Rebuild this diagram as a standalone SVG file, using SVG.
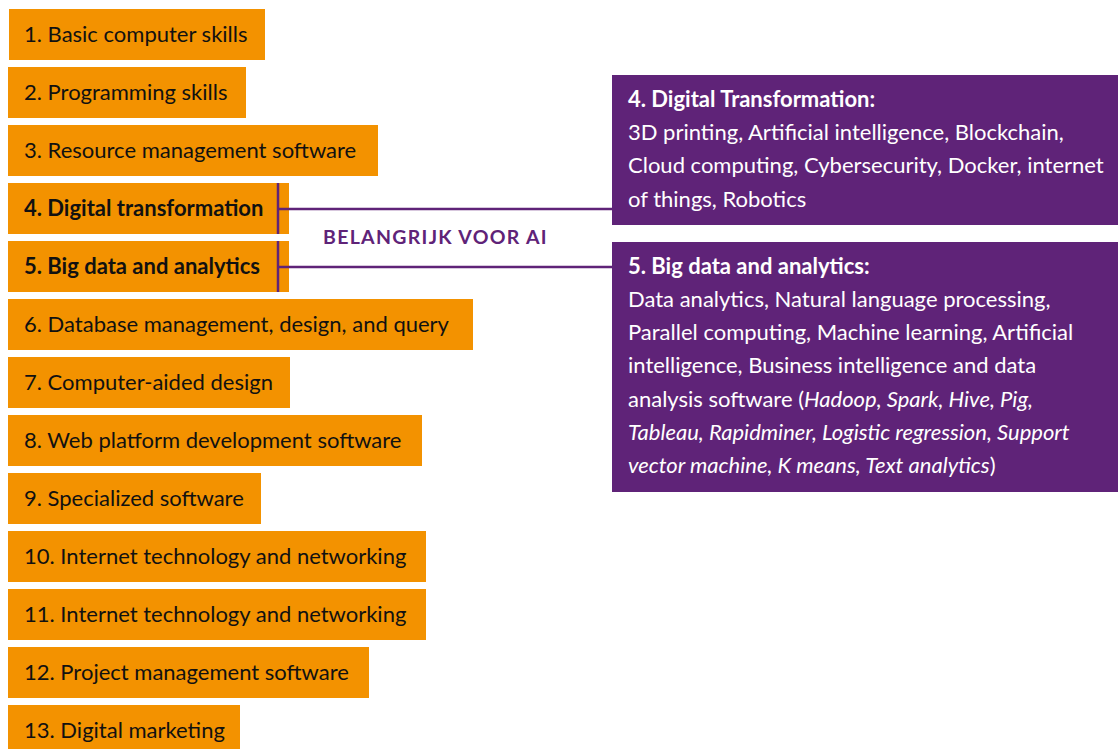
<svg xmlns="http://www.w3.org/2000/svg" width="1118" height="749" viewBox="0 0 1118 749">
<style>
.ob{fill:#F39200}
.pb{fill:#5F2378}
.t{font-family:Lato,"Liberation Sans",sans-serif;font-size:22px;fill:#111}
.tb{font-weight:bold}
.w{font-family:Lato,"Liberation Sans",sans-serif;font-size:22px;fill:#fff}
.wb{font-weight:bold}
.i{font-style:italic}
.lbl{font-family:Lato,"Liberation Sans",sans-serif;font-size:19.5px;font-weight:bold;fill:#5F2378;letter-spacing:1.3px}
.c{stroke:#5F2378;stroke-width:2.5;fill:none}
</style>
<rect width="1118" height="749" fill="#fff"/>
<g id="n1"><rect class="ob" x="9" y="9" width="256" height="51"/><text class="t" x="24" y="42">1. Basic computer skills</text></g>
<g id="n2"><rect class="ob" x="8" y="67" width="238" height="51"/><text class="t" x="24" y="100">2. Programming skills</text></g>
<g id="n3"><rect class="ob" x="8" y="125" width="370" height="51"/><text class="t" x="24" y="158">3. Resource management software</text></g>
<g id="n4"><rect class="ob" x="8" y="183" width="281" height="51"/><text class="t tb" x="24" y="216">4. Digital transformation</text></g>
<g id="n5"><rect class="ob" x="8" y="241" width="281" height="51"/><text class="t tb" x="24" y="274">5. Big data and analytics</text></g>
<g id="n6"><rect class="ob" x="8" y="299" width="465" height="51"/><text class="t" x="24" y="332">6. Database management, design, and query</text></g>
<g id="n7"><rect class="ob" x="8" y="357" width="282" height="51"/><text class="t" x="24" y="390">7. Computer-aided design</text></g>
<g id="n8"><rect class="ob" x="8" y="415" width="414" height="51"/><text class="t" x="24" y="448">8. Web platform development software</text></g>
<g id="n9"><rect class="ob" x="8" y="473" width="253" height="51"/><text class="t" x="24" y="506">9. Specialized software</text></g>
<g id="n10"><rect class="ob" x="8" y="531" width="418" height="51"/><text class="t" x="24" y="564">10. Internet technology and networking</text></g>
<g id="n11"><rect class="ob" x="8" y="589" width="418" height="51"/><text class="t" x="24" y="622">11. Internet technology and networking</text></g>
<g id="n12"><rect class="ob" x="8" y="647" width="361" height="51"/><text class="t" x="24" y="680">12. Project management software</text></g>
<g id="n13"><rect class="ob" x="8" y="705" width="232" height="51"/><text class="t" x="24" y="738">13. Digital marketing</text></g>
<g id="connectors">
<line class="c" x1="278" y1="183" x2="278" y2="234"/>
<line class="c" x1="278" y1="241" x2="278" y2="292"/>
<line class="c" x1="278" y1="209" x2="612" y2="209"/>
<line class="c" x1="278" y1="267" x2="612" y2="267"/>
<text class="lbl" x="323" y="244">BELANGRIJK VOOR AI</text>
</g>
<g id="dt">
<rect class="pb" x="612" y="75" width="506" height="150"/>
<text class="w wb" x="628" y="107">4. Digital Transformation:</text>
<text class="w" x="628" y="140">3D printing, Artificial intelligence, Blockchain,</text>
<text class="w" x="628" y="173">Cloud computing, Cybersecurity, Docker, internet</text>
<text class="w" x="628" y="207">of things, Robotics</text>
</g>
<g id="bd">
<rect class="pb" x="612" y="242" width="506" height="250"/>
<text class="w wb" x="628" y="274">5. Big data and analytics:</text>
<text class="w" x="628" y="307">Data analytics, Natural language processing,</text>
<text class="w" x="628" y="340">Parallel computing, Machine learning, Artificial</text>
<text class="w" x="628" y="373">intelligence, Business intelligence and data</text>
<text class="w" x="628" y="407">analysis software (<tspan class="i">Hadoop, Spark, Hive, Pig,</tspan></text>
<text class="w i" x="628" y="440">Tableau, Rapidminer, Logistic regression, Support</text>
<text class="w" x="628" y="473"><tspan class="i">vector machine, K means, Text analytics</tspan>)</text>
</g>
</svg>
